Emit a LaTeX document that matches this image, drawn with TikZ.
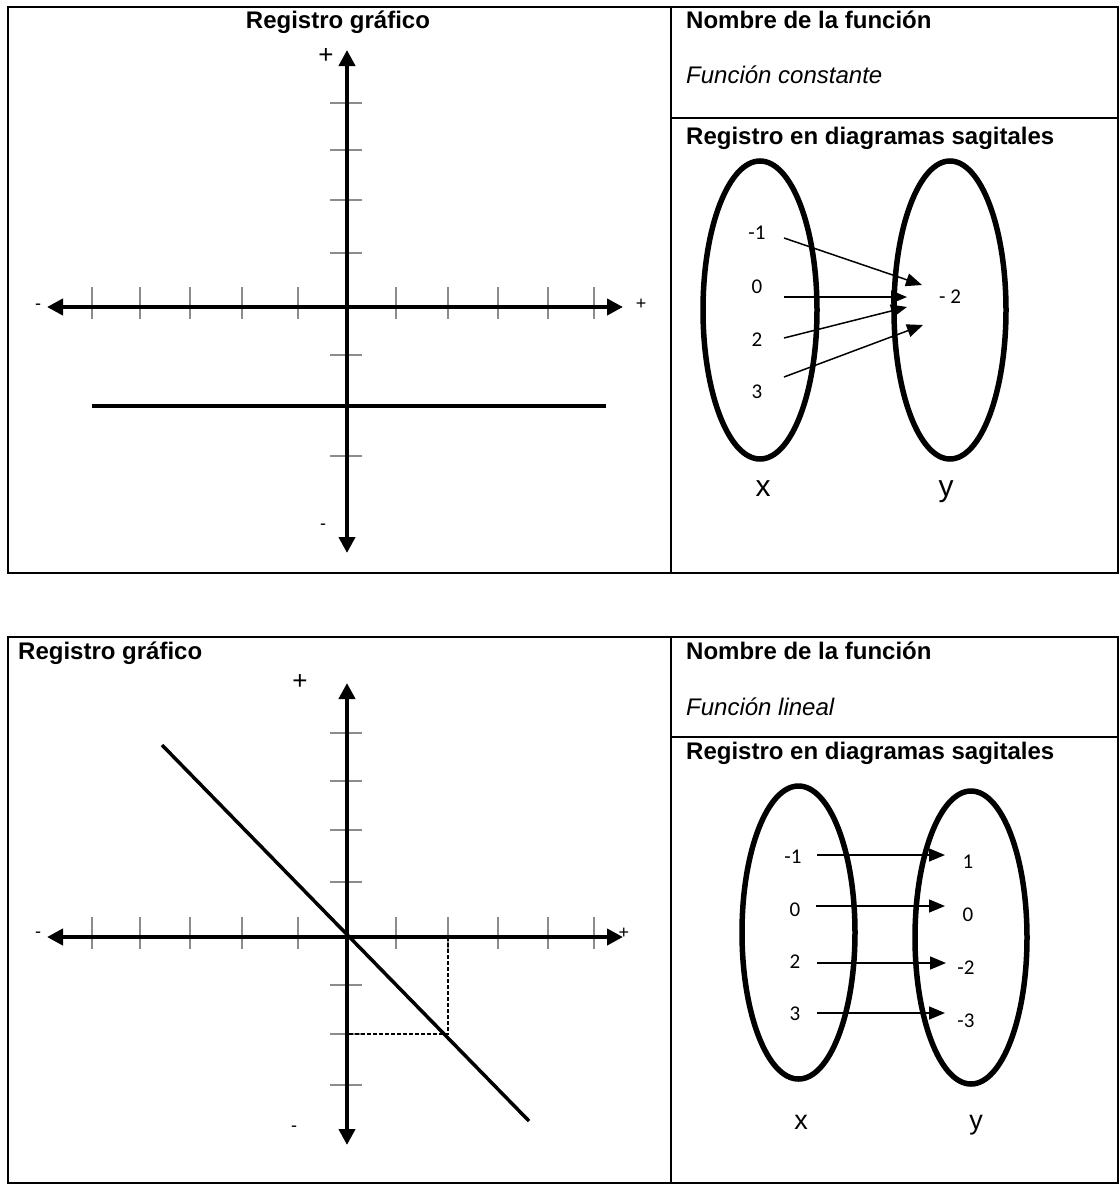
\documentclass[tikz,border=0pt]{standalone}
\usepackage{fontspec}
\setmainfont{Liberation Sans}
\newfontfamily\calfont{Carlito}
\usetikzlibrary{arrows.meta,shapes.geometric}
\begin{document}
\begin{tikzpicture}[x=1pt,y=-1pt,
  frame/.style={line width=2pt},
  axis/.style={line width=4pt,{Triangle[length=16pt,width=16pt]}-{Triangle[length=16pt,width=16pt]}},
  tickmark/.style={line width=2pt,draw=black!45},
  setell/.style={draw,ellipse,line width=5.5pt,inner sep=0pt},
  sag/.style={line width=1.5pt,-{Triangle[length=16pt,width=13pt]}},
  head/.style={font=\fontsize{24}{28}\selectfont\bfseries,anchor=base west,inner sep=0pt},
  fname/.style={font=\fontsize{24}{28}\selectfont\itshape,anchor=base west,inner sep=0pt},
  num/.style={font=\calfont\fontsize{21}{24}\selectfont,inner sep=0pt},
  sgn/.style={font=\fontsize{18}{20}\selectfont,inner sep=0pt,anchor=base},
  bigsgn/.style={font=\fontsize{26}{28}\selectfont,inner sep=0pt,anchor=base},
  var/.style={font=\fontsize{30}{32}\selectfont,inner sep=0pt,anchor=base},
  fline/.style={line width=3.5pt},
  dline/.style={line width=1.3pt,dash pattern=on 4pt off 2pt},
]
\useasboundingbox (0,0) rectangle (1119,1184);
\fill[white] (0,0) rectangle (1119,1184);

% ================= TOP TABLE =================
\draw[frame] (8,7) rectangle (1118,573);
\draw[frame] (671,7) -- (671,573);
\draw[frame] (671,118) -- (1118,118);

\node[head,anchor=base] (tg1) at (338,28) {Registro gráfico};
\node[head] (tn1) at (686,28) {Nombre de la función};
\node[fname] (tf1) at (686,83) {Función constante};
\node[head] (ts1) at (686,144) {Registro en diagramas sagitales};

% graph 1
\foreach \x in {92,140,190,242,298,396,448,498,548,594}
  \draw[tickmark] (\x,287) -- (\x,319);
\foreach \y in {103,150,200,253,355,456}
  \draw[tickmark] (330,\y) -- (362,\y);
\coordinate (xl1) at (47,307);
\coordinate (xr1) at (623,307);
\coordinate (yt1) at (347,50);
\coordinate (yb1) at (347,553);
\draw[axis] (xl1) -- (xr1);
\draw[axis] (yt1) -- (yb1);
\coordinate (c1a) at (92,406);
\coordinate (c1b) at (606,406);
\draw[fline] (c1a) -- (c1b);
\node[sgn] (xm1) at (38,309) {-};
\node[sgn] (xp1) at (641,309) {+};
\node[bigsgn] (yp1) at (326,63) {+};
\node[sgn] (ym1) at (323,529) {-};

% sagittal 1
\node[setell,minimum width=114pt,minimum height=298pt] (X1) at (760,310) {};
\node[setell,minimum width=112pt,minimum height=298pt] (Y1) at (950,310) {};
\node[num] (a11) at (757,233) {-1};
\node[num] (a12) at (757,287) {0};
\node[num] (a13) at (757,340) {2};
\node[num] (a14) at (757,392) {3};
\node[num] (b11) at (950,297) {- 2};
\coordinate (s11) at (784,238);  \coordinate (e11) at (922,285);
\coordinate (s12) at (784,297);  \coordinate (e12) at (907,297);
\coordinate (s13) at (784,338);  \coordinate (e13) at (907,307);
\coordinate (s14) at (784,377);  \coordinate (e14) at (923,325);
\draw[sag] (s11) -- (e11);
\draw[sag] (s12) -- (e12);
\draw[sag] (s13) -- (e13);
\draw[sag] (s14) -- (e14);
\node[var] (vx1) at (763,496) {x};
\node[var] (vy1) at (946,496) {y};

% ================= BOTTOM TABLE =================
\draw[frame] (8,637) rectangle (1118,1183);
\draw[frame] (671,637) -- (671,1183);
\draw[frame] (671,737) -- (1118,737);

\node[head] (tg2) at (18,659) {Registro gráfico};
\node[head] (tn2) at (686,659) {Nombre de la función};
\node[fname] (tf2) at (686,715) {Función lineal};
\node[head] (ts2) at (686,759) {Registro en diagramas sagitales};

% graph 2
\foreach \x in {92,140,190,242,298,396,448,498,548,594}
  \draw[tickmark] (\x,917) -- (\x,949);
\foreach \y in {733,781,830,882,985,1034,1085}
  \draw[tickmark] (330,\y) -- (362,\y);
\coordinate (xl2) at (47,937);
\coordinate (xr2) at (623,937);
\coordinate (yt2) at (347,683);
\coordinate (yb2) at (347,1145);
\draw[axis] (xl2) -- (xr2);
\draw[axis] (yt2) -- (yb2);
\coordinate (d1) at (448,937);
\coordinate (d2) at (448,1034);
\coordinate (d3) at (347,1034);
\draw[dline] (d1) -- (d2) -- (d3);
\coordinate (l2a) at (162,745);
\coordinate (l2b) at (529,1121);
\draw[fline] (l2a) -- (l2b);
\node[sgn] (xm2) at (38,937) {-};
\node[sgn] (xp2) at (624,938) {+};
\node[bigsgn] (yp2) at (300,689) {+};
\node[sgn] (ym2) at (294,1131) {-};

% sagittal 2
\node[setell,minimum width=113pt,minimum height=293pt] (X2) at (798.5,932.5) {};
\node[setell,minimum width=112pt,minimum height=293pt] (Y2) at (971,937.5) {};
\node[num] (a21) at (793,857) {-1};
\node[num] (a22) at (795,910) {0};
\node[num] (a23) at (795,962) {2};
\node[num] (a24) at (795,1014) {3};
\node[num] (b21) at (968,862) {1};
\node[num] (b22) at (968,915) {0};
\node[num] (b23) at (966,968) {-2};
\node[num] (b24) at (966,1021) {-3};
\coordinate (s21) at (817,855);   \coordinate (e21) at (945,855);
\coordinate (s22) at (816,906);   \coordinate (e22) at (945,906);
\coordinate (s23) at (817,963);   \coordinate (e23) at (946,963);
\coordinate (s24) at (817,1013);  \coordinate (e24) at (945,1013);
\draw[sag] (s21) -- (e21);
\draw[sag] (s22) -- (e22);
\draw[sag] (s23) -- (e23);
\draw[sag] (s24) -- (e24);
\node[var,font=\fontsize{27}{29}\selectfont] (vx2) at (801,1129) {x};
\node[var,font=\fontsize{27}{29}\selectfont] (vy2) at (976,1129) {y};
\end{tikzpicture}
\end{document}
